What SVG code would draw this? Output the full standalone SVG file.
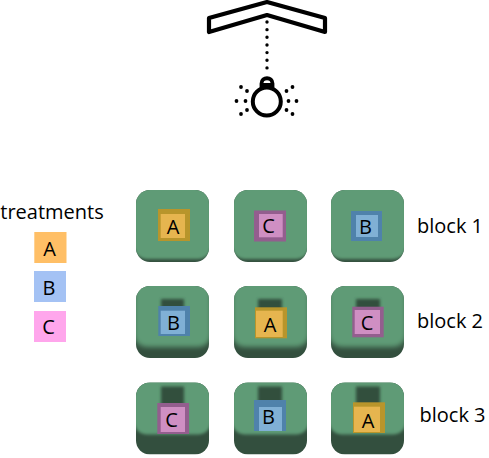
<svg xmlns="http://www.w3.org/2000/svg" width="489" height="458" viewBox="0 0 489 458">
<style>
text{font-family:"Open Sans","Noto Sans","DejaVu Sans",sans-serif;font-size:20px;fill:#000}
.m{text-anchor:middle}
.base{fill:#334f3e}
.top{fill:#5e9b76;filter:url(#b2)}
.top2{fill:#5e9b76;filter:url(#b4)}
.sh{fill:#334f3e;filter:url(#b1)}
.oa{fill:#b8952b}.ia{fill:#e6b54f}
.ob{fill:#4f82ab}.ib{fill:#80b0d5}
.oc{fill:#935e8e}.ic{fill:#cf8fc3}
.ln{fill:none;stroke:#000;stroke-linejoin:round;stroke-linecap:round}
.d{fill:#000}
</style>
<defs>
<filter id="b1" x="-30%" y="-30%" width="160%" height="160%"><feGaussianBlur stdDeviation="1.600"/></filter>
<filter id="b2" x="-10%" y="-10%" width="120%" height="120%"><feGaussianBlur stdDeviation="1.400"/></filter>
<filter id="b4" x="-10%" y="-10%" width="120%" height="120%"><feGaussianBlur stdDeviation="2.600"/></filter>
<clipPath id="p"><rect x="0" y="0" width="73" height="72" rx="14"/></clipPath>
</defs>
<g id="lamp">
<path class="ln" stroke-width="4.200" d="M209 18L267 2L325 18V32L267 15L209 32Z"/>
<path class="ln" stroke-width="3.400" stroke-dasharray="0 7.650" d="M267 22V69"/>
<circle class="ln" stroke-width="4" cx="266.800" cy="101.500" r="14"/>
<path class="ln" stroke-width="3.800" d="M261.500 88V83.500C261.500 76.500 272.500 76.500 272.500 83.500V88"/>
<path class="ln" stroke-width="3" d="M263 84.500H271"/>
<g class="d"><circle cx="241" cy="87" r="1.900"/><circle cx="247" cy="91" r="1.900"/><circle cx="236.500" cy="101" r="1.900"/><circle cx="245.500" cy="101" r="1.900"/><circle cx="247" cy="110" r="1.900"/><circle cx="241" cy="114" r="1.900"/><circle cx="292.500" cy="87" r="1.900"/><circle cx="286.500" cy="91" r="1.900"/><circle cx="288.500" cy="101" r="1.900"/><circle cx="296.500" cy="101" r="1.900"/><circle cx="286.500" cy="110" r="1.900"/><circle cx="292.500" cy="114" r="1.900"/></g>
</g>
<g id="legend">
<text x="52" y="219" class="m">treatments</text>
<rect x="34.300" y="232" width="32.200" height="31" fill="#ffbf66"/><text x="49.500" y="256" class="m">A</text>
<rect x="34" y="271" width="32" height="31" fill="#a4c2f4"/><text x="49" y="295" class="m">B</text>
<rect x="34" y="311" width="32" height="31" fill="#ffa6ec"/><text x="48.500" y="334" class="m">C</text>
</g>
<g id="plate-1-1"><g transform="translate(136 190)" clip-path="url(#p)"><rect class="base" width="73" height="72"/><rect class="top" x="-2" y="-12" width="77" height="81" rx="13"/></g>
<rect class="oa" x="158" y="209" width="32" height="32"/><rect class="ia" x="160.700" y="214" width="24.300" height="24"/><text x="173" y="234" class="m">A</text></g>
<g id="plate-1-2"><g transform="translate(234 190)" clip-path="url(#p)"><rect class="base" width="73" height="72"/><rect class="top" x="-2" y="-12" width="77" height="81" rx="13"/></g>
<rect class="oc" x="254" y="210.500" width="32" height="31"/><rect class="ic" x="259" y="214" width="23.700" height="23.300"/><text x="268.500" y="233" class="m">C</text></g>
<g id="plate-1-3"><g transform="translate(331 190)" clip-path="url(#p)"><rect class="base" width="73" height="72"/><rect class="top" x="-2" y="-12" width="77" height="81" rx="13"/></g>
<rect class="ob" x="351" y="211" width="31" height="30"/><rect class="ib" x="356" y="215" width="22" height="22"/><text x="365.500" y="234" class="m">B</text></g>
<g id="plate-2-1"><g transform="translate(136 286)" clip-path="url(#p)"><rect class="base" width="73" height="72"/><rect class="top2" x="-2" y="-12" width="77" height="73" rx="13"/><rect class="sh" x="25" y="13" width="23" height="12"/></g>
<rect class="ob" x="158.300" y="306" width="31.700" height="30"/><rect class="ib" x="160.700" y="310.700" width="24.300" height="23.300"/><text x="173.500" y="330" class="m">B</text></g>
<g id="plate-2-2"><g transform="translate(234 286)" clip-path="url(#p)"><rect class="base" width="73" height="72"/><rect class="top2" x="-2" y="-12" width="77" height="73" rx="13"/><rect class="sh" x="24" y="13" width="24" height="12"/></g>
<rect class="oa" x="255" y="307.300" width="32" height="31"/><rect class="ia" x="256" y="310.700" width="26.700" height="26.300"/><text x="270" y="332" class="m">A</text></g>
<g id="plate-2-3"><g transform="translate(331 286)" clip-path="url(#p)"><rect class="base" width="73" height="72"/><rect class="top2" x="-2" y="-12" width="77" height="73" rx="13"/><rect class="sh" x="25" y="13" width="24" height="12"/></g>
<rect class="oc" x="352.300" y="306.700" width="31.400" height="30.600"/><rect class="ic" x="354.700" y="310" width="25.300" height="24"/><text x="367" y="329.500" class="m">C</text></g>
<g id="plate-3-1"><g transform="translate(136 382.500)" clip-path="url(#p)"><rect class="base" width="73" height="72"/><rect class="top" x="-2" y="-12" width="77" height="64" rx="13"/><rect class="sh" x="25" y="4" width="23" height="24"/></g>
<rect class="oc" x="157.300" y="403" width="31.700" height="31"/><rect class="ic" x="160.700" y="407" width="24.300" height="25"/><text x="171.500" y="426.500" class="m">C</text></g>
<g id="plate-3-2"><g transform="translate(234 382.500)" clip-path="url(#p)"><rect class="base" width="73" height="72"/><rect class="top" x="-2" y="-12" width="77" height="64" rx="13"/><rect class="sh" x="24" y="4" width="24" height="24"/></g>
<rect class="ob" x="254" y="400" width="32" height="31"/><rect class="ib" x="259" y="407" width="23" height="24"/><text x="268.500" y="424" class="m">B</text></g>
<g id="plate-3-3"><g transform="translate(331 382.500)" clip-path="url(#p)"><rect class="base" width="73" height="72"/><rect class="top" x="-2" y="-12" width="77" height="64" rx="13"/><rect class="sh" x="25" y="4" width="24" height="24"/></g>
<rect class="oa" x="353" y="402.300" width="32" height="30.700"/><rect class="ia" x="354" y="406.700" width="26" height="25.300"/><text x="368" y="427.500" class="m">A</text></g>
<g id="labels">
<text x="417" y="233">block 1</text>
<text x="417" y="328">block 2</text>
<text x="419.500" y="422">block 3</text>
</g>
</svg>
